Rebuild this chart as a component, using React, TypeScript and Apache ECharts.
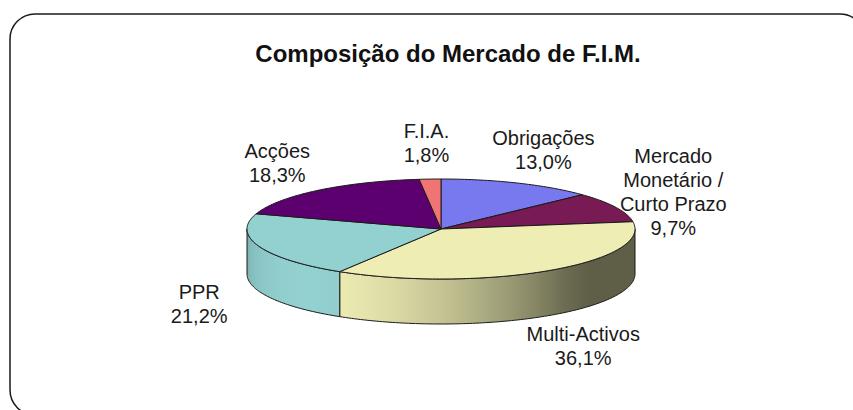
import React, { useEffect, useRef } from 'react';
import * as echarts from 'echarts';

// ---- data ----
const categories = ['Obrigações', 'Mercado\nMonetário /\nCurto Prazo', 'Multi-Activos', 'PPR', 'Acções', 'F.I.A.'];
const shares = [13.0, 9.7, 36.1, 21.2, 18.3, 1.8];
const titleText = 'Composição do Mercado de F.I.M.';

// ---- style ----
const colors = ['#7878EF', '#781A54', '#EEEEB4', '#93D0D0', '#5C006F', '#F07474'];
const FONT = "'Liberation Sans', Arial, sans-serif";

// ---- layout of the 3-D pie ----
const CX = 441;
const CY = 229;
const RX = 194;
const RY = 50;
const DEPTH = 45;
const LRX = 258;
const LRY = 86;

const rad = (d: number) => (d * Math.PI) / 180;
const pt = (deg: number, yoff = 0): number[] => [CX + RX * Math.sin(rad(deg)), CY - RY * Math.cos(rad(deg)) + yoff];

const total = shares.reduce((s, v) => s + v, 0);
const starts: number[] = [];
shares.reduce((acc, v) => {
  starts.push((acc / total) * 360);
  return acc + v;
}, 0);

function shade(hex: string, f: number) {
  const n = parseInt(hex.slice(1), 16);
  const r = Math.round(((n >> 16) & 255) * f);
  const g = Math.round(((n >> 8) & 255) * f);
  const b = Math.round((n & 255) * f);
  return `rgb(${r},${g},${b})`;
}
const light = (deg: number) => 0.4 + 0.6 * Math.max(0, Math.cos(rad(deg - 225)));

function arc(a: number, b: number, yoff = 0) {
  const n = Math.max(2, Math.ceil(Math.abs(b - a)));
  const pts: number[][] = [];
  for (let k = 0; k <= n; k++) pts.push(pt(a + ((b - a) * k) / n, yoff));
  return pts;
}

export default function App() {
  const ref = useRef<HTMLDivElement>(null);
  useEffect(() => {
    document.body.style.margin = '0';
    if (!ref.current) return;
    const chart = echarts.init(ref.current, undefined, { renderer: 'svg' });

    const renderSide = (params: any, api: any) => {
      const i = params.dataIndex;
      const sweep = (api.value(0) / total) * 360;
      const a = Math.max(starts[i], 90);
      const b = Math.min(starts[i] + sweep, 270);
      if (a >= b) return { type: 'group', children: [] };
      const top = arc(a, b);
      const bottom = arc(b, a, DEPTH);
      const xmax = pt(a)[0];
      const xmin = pt(b)[0];
      const stops: { offset: number; color: string }[] = [];
      const m = 12;
      for (let k = 0; k <= m; k++) {
        const th = b - ((b - a) * k) / m;
        const off = xmax > xmin ? (pt(th)[0] - xmin) / (xmax - xmin) : k / m;
        stops.push({ offset: Math.min(1, Math.max(0, off)), color: shade(colors[i], light(th)) });
      }
      return {
        type: 'polygon',
        shape: { points: top.concat(bottom) },
        style: {
          fill: new echarts.graphic.LinearGradient(0, 0, 1, 0, stops),
          stroke: '#1a1a1a',
          lineWidth: 1,
        },
      };
    };

    const renderTop = (params: any, api: any) => {
      const i = params.dataIndex;
      const sweep = (api.value(0) / total) * 360;
      const a = starts[i];
      const b = a + sweep;
      return {
        type: 'polygon',
        shape: { points: [[CX, CY]].concat(arc(a, b)) },
        style: { fill: colors[i], stroke: '#1a1a1a', lineWidth: 1, lineJoin: 'round' },
      };
    };

    const renderLabel = (params: any, api: any) => {
      const i = params.dataIndex;
      const v = api.value(0);
      const sweep = (v / total) * 360;
      const mid = starts[i] + sweep / 2;
      const c = Math.cos(rad(mid));
      const x = CX + LRX * Math.sin(rad(mid));
      const y = CY - LRY * c + (c < 0 ? DEPTH : 0);
      return {
        type: 'text',
        x,
        y,
        style: {
          text: categories[i] + '\n' + v.toFixed(1).replace('.', ',') + '%',
          align: 'center',
          verticalAlign: 'middle',
          fontSize: 20,
          fontFamily: FONT,
          lineHeight: 24,
          fill: '#1a1a1a',
        },
      };
    };

    const data = shares.map((v, i) => ({ name: categories[i], value: [v] }));

    chart.setOption({
      animation: false,
      backgroundColor: '#ffffff',
      title: {
        text: titleText,
        left: 443,
        top: 36,
        textAlign: 'center',
        textStyle: { fontFamily: FONT, fontSize: 24, fontWeight: 'bold', color: '#111' },
      },
      graphic: [
        {
          type: 'rect',
          shape: { x: 10, y: 14, width: 855, height: 401, r: 25 },
          style: { fill: 'none', stroke: '#1a1a1a', lineWidth: 1.5 },
          silent: true,
        },
      ],
      series: [
        { type: 'custom', coordinateSystem: 'none', renderItem: renderSide, data, z: 1, silent: true },
        { type: 'custom', coordinateSystem: 'none', renderItem: renderTop, data, z: 2, silent: true },
        { type: 'custom', coordinateSystem: 'none', renderItem: renderLabel, data, z: 3, silent: true },
      ],
    });
    return () => chart.dispose();
  }, []);
  return <div ref={ref} style={{ width: 853, height: 410 }} />;
}
